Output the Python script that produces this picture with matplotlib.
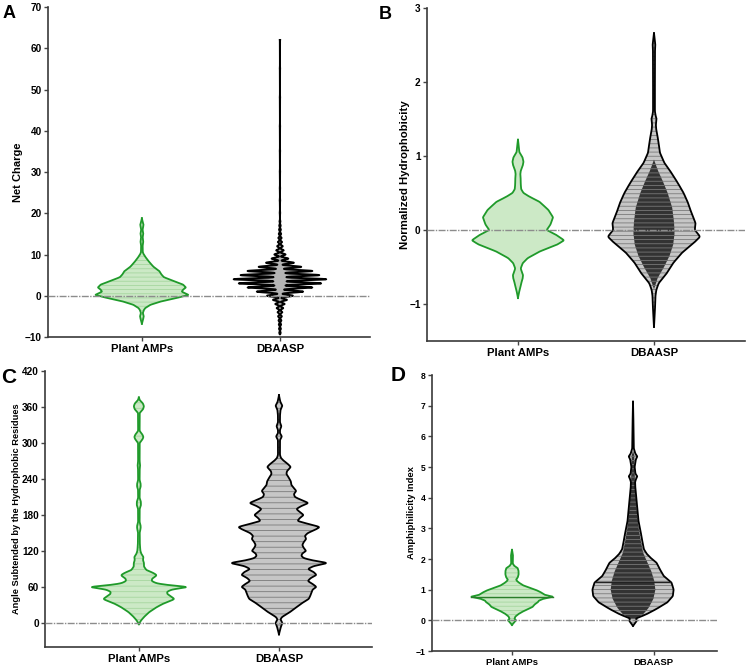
import numpy as np
import matplotlib
matplotlib.use("Agg")
import matplotlib.pyplot as plt

plt.rcParams['font.family'] = ['Liberation Sans', 'DejaVu Sans']
plt.rcParams['font.weight'] = 'bold'
plt.rcParams['hatch.linewidth'] = 0.6

groups = ['Plant AMPs', 'DBAASP']

# ---- A: net charge ----
a_plant_y = [-6.8, -6.0, -5.0, -4.2, -3.5, -3.0, -2.2, -1.4, -0.6, 0.2, 0.6, 1.0, 1.5, 2.0, 2.7, 3.3,
             3.9, 4.5, 5.1, 5.9, 6.4, 7.0, 8.0, 9.0, 10.0, 10.5, 12.0, 13.0, 14.0, 15.0, 16.0, 17.2, 18.0, 18.8]
a_plant_w = [0, 0.02, 0.04, 0.02, 0.04, 0.07, 0.18, 0.40, 0.72, 1.0, 0.92, 0.85, 0.88, 0.94, 0.88, 0.74,
             0.6, 0.47, 0.42, 0.38, 0.32, 0.25, 0.17, 0.1, 0.04, 0.02, 0.015, 0.03, 0.015, 0.03, 0.015, 0.035, 0.015, 0]
# DBAASP net charge is discrete: relative counts per value
a_db_vals = [-9, -8, -7, -6, -5, -4, -3, -2, -1, 0, 1, 2, 3, 4, 5, 6, 7, 8, 9, 10, 11, 12, 13, 14, 15, 16, 17, 18,
             20, 23, 26, 30, 35, 41, 48, 55, 62]
a_db_cnt = [0.015, 0.02, 0.025, 0.03, 0.04, 0.05, 0.07, 0.1, 0.15, 0.28, 0.5, 0.7, 0.89, 1.0, 0.85, 0.7, 0.46,
            0.3, 0.18, 0.12, 0.08, 0.06, 0.045, 0.035, 0.025, 0.02, 0.015, 0.01,
            0.005, 0.005, 0.004, 0.004, 0.004, 0.004, 0.004, 0.004, 0.004]

# ---- B: normalized hydrophobicity ----
b_plant_y = [-0.92, -0.85, -0.78, -0.72, -0.66, -0.61, -0.56, -0.52, -0.45, -0.38, -0.29, -0.2, -0.14, -0.07,
             0.0, 0.07, 0.17, 0.27, 0.38, 0.45, 0.5, 0.55, 0.62, 0.68, 0.75, 0.8, 0.86, 0.92, 0.98, 1.05, 1.12, 1.22]
b_plant_w = [0, 0.02, 0.05, 0.07, 0.1, 0.11, 0.08, 0.06, 0.1, 0.21, 0.47, 0.84, 1.0, 0.84,
             0.62, 0.7, 0.76, 0.66, 0.47, 0.25, 0.12, 0.07, 0.06, 0.06, 0.05, 0.06, 0.1, 0.12, 0.1, 0.03, 0.02, 0]
b_db_y = [-1.31, -1.1, -0.9, -0.81, -0.72, -0.59, -0.45, -0.31, -0.18, -0.09, 0.0, 0.09, 0.23, 0.36, 0.5,
          0.63, 0.77, 0.9, 1.04, 1.22, 1.35, 1.42, 1.47, 1.5, 1.53, 1.6, 2.0, 2.4, 2.5, 2.55, 2.66]
b_db_w = [0, 0.02, 0.03, 0.05, 0.1, 0.27, 0.41, 0.6, 0.85, 1.0, 0.88, 0.9, 0.81, 0.74, 0.64,
          0.52, 0.38, 0.23, 0.13, 0.09, 0.05, 0.04, 0.05, 0.06, 0.04, 0.02, 0.02, 0.02, 0.03, 0.02, 0]
b_db_core_y = [-0.8, -0.65, -0.5, -0.35, -0.2, -0.05, 0.1, 0.3, 0.5, 0.65, 0.8, 0.95]
b_db_core_w = [0, 0.08, 0.22, 0.34, 0.42, 0.45, 0.44, 0.4, 0.3, 0.2, 0.09, 0]

# ---- C: angle subtended ----
c_plant_y = [-2, 4, 10, 18, 26, 32, 37, 40, 43, 48, 52, 56, 60, 63, 66, 70, 74, 78, 80, 84, 88, 94, 100, 105,
             110, 115, 120, 130, 150, 158, 162, 168, 190, 196, 202, 208, 222, 227, 232, 238, 255, 262, 270,
             300, 306, 310, 314, 320, 350, 356, 361, 366, 371, 376]
c_plant_w = [0, 0.04, 0.1, 0.2, 0.34, 0.47, 0.62, 0.7, 0.65, 0.56, 0.55, 0.65, 1.0, 0.6, 0.35, 0.25, 0.26,
             0.33, 0.35, 0.27, 0.15, 0.1, 0.1, 0.08, 0.09, 0.05, 0.03, 0.02, 0.015, 0.035, 0.035, 0.015,
             0.015, 0.04, 0.04, 0.015, 0.015, 0.035, 0.035, 0.015, 0.015, 0.025, 0.015,
             0.015, 0.07, 0.09, 0.07, 0.015, 0.015, 0.08, 0.1, 0.08, 0.02, 0]
c_db_y = [-19, -12, -6, 0, 6, 10, 17, 23, 28, 34, 40, 45, 50, 56, 60, 65, 70, 75, 80, 85, 90, 95, 100, 104,
          108, 112, 116, 120, 125, 130, 135, 140, 145, 150, 155, 160, 165, 170, 175, 180, 185, 190, 195, 200,
          205, 210, 215, 220, 225, 230, 236, 242, 248, 253, 260, 265, 270, 275, 280, 295, 305, 311, 316, 322,
          328, 334, 345, 355, 362, 368, 375, 380]
c_db_w = [0, 0.02, 0.04, 0.07, 0.03, 0.06, 0.2, 0.3, 0.38, 0.48, 0.6, 0.63, 0.65, 0.68, 0.76, 0.68, 0.58,
          0.64, 0.76, 0.7, 0.58, 0.7, 1.0, 0.7, 0.5, 0.45, 0.47, 0.55, 0.5, 0.47, 0.5, 0.55, 0.52, 0.58, 0.72,
          0.83, 0.6, 0.37, 0.42, 0.5, 0.42, 0.35, 0.45, 0.6, 0.45, 0.32, 0.3, 0.35, 0.3, 0.25, 0.24, 0.2,
          0.15, 0.16, 0.24, 0.18, 0.1, 0.04, 0.02, 0.02, 0.02, 0.06, 0.02, 0.02, 0.05, 0.02, 0.02, 0.03,
          0.07, 0.03, 0.01, 0]

# ---- D: amphiphilicity index ----
d_plant_y = [-0.15, -0.05, 0.0, 0.05, 0.12, 0.2, 0.28, 0.36, 0.44, 0.52, 0.58, 0.64, 0.7, 0.77, 0.83, 0.9,
             0.97, 1.05, 1.12, 1.2, 1.27, 1.33, 1.4, 1.5, 1.6, 1.7, 1.77, 1.85, 2.0, 2.1, 2.2, 2.3]
d_plant_w = [0, 0.06, 0.1, 0.06, 0.08, 0.15, 0.25, 0.38, 0.5, 0.55, 0.62, 0.65, 0.75, 1.0, 0.8, 0.72,
             0.62, 0.45, 0.3, 0.2, 0.13, 0.1, 0.14, 0.16, 0.16, 0.14, 0.06, 0.02, 0.02, 0.025, 0.015, 0]
d_db_y = [-0.18, -0.08, 0.0, 0.06, 0.1, 0.2, 0.36, 0.58, 0.79, 1.0, 1.23, 1.44, 1.62, 1.77, 1.88, 1.98,
          2.15, 2.31, 2.5, 2.74, 3.0, 3.18, 3.45, 3.72, 4.0, 4.26, 4.5, 4.6, 4.69, 4.78, 5.0, 5.25, 5.34,
          5.43, 5.6, 6.2, 7.13]
d_db_w = [0, 0.06, 0.1, 0.06, 0.15, 0.33, 0.56, 0.84, 0.98, 1.0, 0.95, 0.76, 0.68, 0.62, 0.58, 0.48,
          0.35, 0.27, 0.24, 0.21, 0.17, 0.14, 0.12, 0.1, 0.08, 0.06, 0.05, 0.07, 0.11, 0.06, 0.04, 0.07,
          0.11, 0.06, 0.02, 0.015, 0]
d_db_core_y = [0.05, 0.2, 0.4, 0.7, 1.0, 1.3, 1.6, 1.9, 2.2, 2.6, 3.0, 3.5, 4.0, 4.4, 5.4, 5.5]
d_db_core_w = [0.05, 0.25, 0.38, 0.5, 0.55, 0.52, 0.45, 0.35, 0.25, 0.19, 0.14, 0.1, 0.07, 0.05, 0.03, 0]
d_medians = [0.77, 1.26]

HALF = 0.335
GREEN = '#1f9a2a'
GREEN_FILL = '#cce9c6'
GREEN_HATCH = '#a6d69f'
GREY_FILL = '#c6c6c6'
GREY_HATCH = '#7a7a7a'


def smooth(w, sig):
    k = np.exp(-0.5 * (np.arange(-3 * sig, 3 * sig + 1) / sig) ** 2)
    return np.convolve(w, k / k.sum(), mode='same')


def violin(ax, pos, ys, ws, face, edge, hcol, hatch='----', lw=1.3, sig=4, outline=True):
    yy = np.linspace(ys[0], ys[-1], 1200)
    ww = smooth(np.interp(yy, ys, ws), sig)
    ww = ww / ww.max() * np.max(ws)
    with plt.rc_context({'hatch.color': hcol}):
        ax.fill_betweenx(yy, pos - ww * HALF, pos + ww * HALF, facecolor=face,
                         edgecolor=hcol, linewidth=0, hatch=hatch, zorder=2)
    if outline:
        ax.plot(pos - ww * HALF, yy, color=edge, lw=lw, zorder=4, solid_joinstyle='round')
        ax.plot(pos + ww * HALF, yy, color=edge, lw=lw, zorder=4, solid_joinstyle='round')


def violin_discrete(ax, pos, vals, cnt, face, edge, bw=0.22):
    vals = np.asarray(vals, float)
    cnt = np.asarray(cnt, float)
    yy = np.linspace(vals.min() - 0.3, vals.max(), 5000)
    dens = (cnt[None, :] * np.exp(-0.5 * ((yy[:, None] - vals[None, :]) / bw) ** 2)).sum(axis=1)
    dens = dens / dens.max()
    ax.fill_betweenx(yy, pos - dens * HALF, pos + dens * HALF, facecolor=face, linewidth=0, zorder=2)
    ax.plot(pos - dens * HALF, yy, color=edge, lw=1.4, zorder=4)
    ax.plot(pos + dens * HALF, yy, color=edge, lw=1.4, zorder=4)


def style(ax, ylim, yticks, xlim, ylabel, lab_x, tick_fs, lab_fs, xt_fs, xticks=(0, 1)):
    ax.set_xlim(*xlim)
    ax.set_ylim(*ylim)
    ax.set_yticks(yticks)
    ax.set_xticks(list(xticks))
    ax.set_xticklabels(groups, fontsize=xt_fs, fontweight='bold')
    ax.tick_params(axis='y', labelsize=tick_fs, length=3, width=1, color='#444444', pad=1.5)
    ax.tick_params(axis='x', length=3, width=1, color='#444444', pad=2)
    for s in ('top', 'right'):
        ax.spines[s].set_visible(False)
    for s in ('left', 'bottom'):
        ax.spines[s].set_linewidth(1.2)
        ax.spines[s].set_color('#3a3a3a')
    ax.set_ylabel(ylabel, fontsize=lab_fs, fontweight='bold')
    ax.yaxis.set_label_coords(lab_x, 0.5)
    ax.axhline(0, color='#8c8c8c', lw=1.0, ls=(0, (5, 1, 1, 1)), zorder=5)


fig = plt.figure(figsize=(7.5, 6.68), dpi=100)

axA = fig.add_axes([0.064, 0.4955, 0.4293, 0.494])
violin(axA, 0, a_plant_y, a_plant_w, GREEN_FILL, GREEN, GREEN_HATCH, hatch='----', sig=3)
violin_discrete(axA, 1, a_db_vals, a_db_cnt, '#b4b4b4', 'black')
style(axA, (-10, 70), np.arange(-10, 71, 10), (-0.68, 1.652), 'Net Charge', -0.078, 7.2, 8, 8.2)

axB = fig.add_axes([0.5693, 0.4895, 0.424, 0.4985])
violin(axB, 0, b_plant_y, b_plant_w, GREEN_FILL, GREEN, GREEN_HATCH, hatch='', sig=4)
violin(axB, 1, b_db_y, b_db_w, GREY_FILL, 'black', GREY_HATCH, hatch='----', sig=4)
violin(axB, 1, b_db_core_y, b_db_core_w, '#333333', '#333333', '#777777', hatch='----', sig=4, outline=False)
style(axB, (-1.5, 3), [-1, 0, 1, 2, 3], (-0.669, 1.669), 'Normalized Hydrophobicity', -0.053, 7.2, 8.2, 8.2)

axC = fig.add_axes([0.06, 0.0314, 0.436, 0.4132])
violin(axC, 0, c_plant_y, c_plant_w, GREEN_FILL, GREEN, GREEN_HATCH, hatch='---', sig=3)
violin(axC, 1, c_db_y, c_db_w, GREY_FILL, 'black', GREY_HATCH, hatch='---', sig=3)
style(axC, (-40, 420), np.arange(0, 421, 60), (-0.67, 1.664),
      'Angle Subtended by the Hydrophobic Residues', -0.073, 7.2, 6.7, 8.2)

axD = fig.add_axes([0.576, 0.0254, 0.38, 0.4132])
violin(axD, 0, d_plant_y, d_plant_w, GREEN_FILL, GREEN, GREEN_HATCH, hatch='----', sig=3)
violin(axD, 1, d_db_y, d_db_w, GREY_FILL, 'black', GREY_HATCH, hatch='----', sig=3)
violin(axD, 1, d_db_core_y, d_db_core_w, '#333333', '#333333', '#777777', hatch='----', sig=3, outline=False)
for pos, m, c in zip([0, 1], d_medians, ['#2a7d2a', '#222222']):
    w = np.interp(m, d_plant_y if pos == 0 else d_db_y, d_plant_w if pos == 0 else d_db_w)
    axD.plot([pos - w * HALF, pos + w * HALF], [m, m], color=c, lw=1.0, zorder=4)
style(axD, (-1, 8), np.arange(-1, 9, 1), (-0.661, 1.694), 'Amphiphilicity Index', -0.056, 6.2, 6.8, 6.8,
      xticks=(0, 1.17))

fig.text(3 / 750, 1 - 5 / 668, 'A', fontsize=13, fontweight='bold', va='top')
fig.text(379 / 750, 1 - 6 / 668, 'B', fontsize=13, fontweight='bold', va='top')
fig.text(1 / 750, 1 - 368 / 668, 'C', fontsize=15, fontweight='bold', va='top')
fig.text(391 / 750, 1 - 366 / 668, 'D', fontsize=15, fontweight='bold', va='top')

fig.savefig('out.png', dpi=100, facecolor='white')
